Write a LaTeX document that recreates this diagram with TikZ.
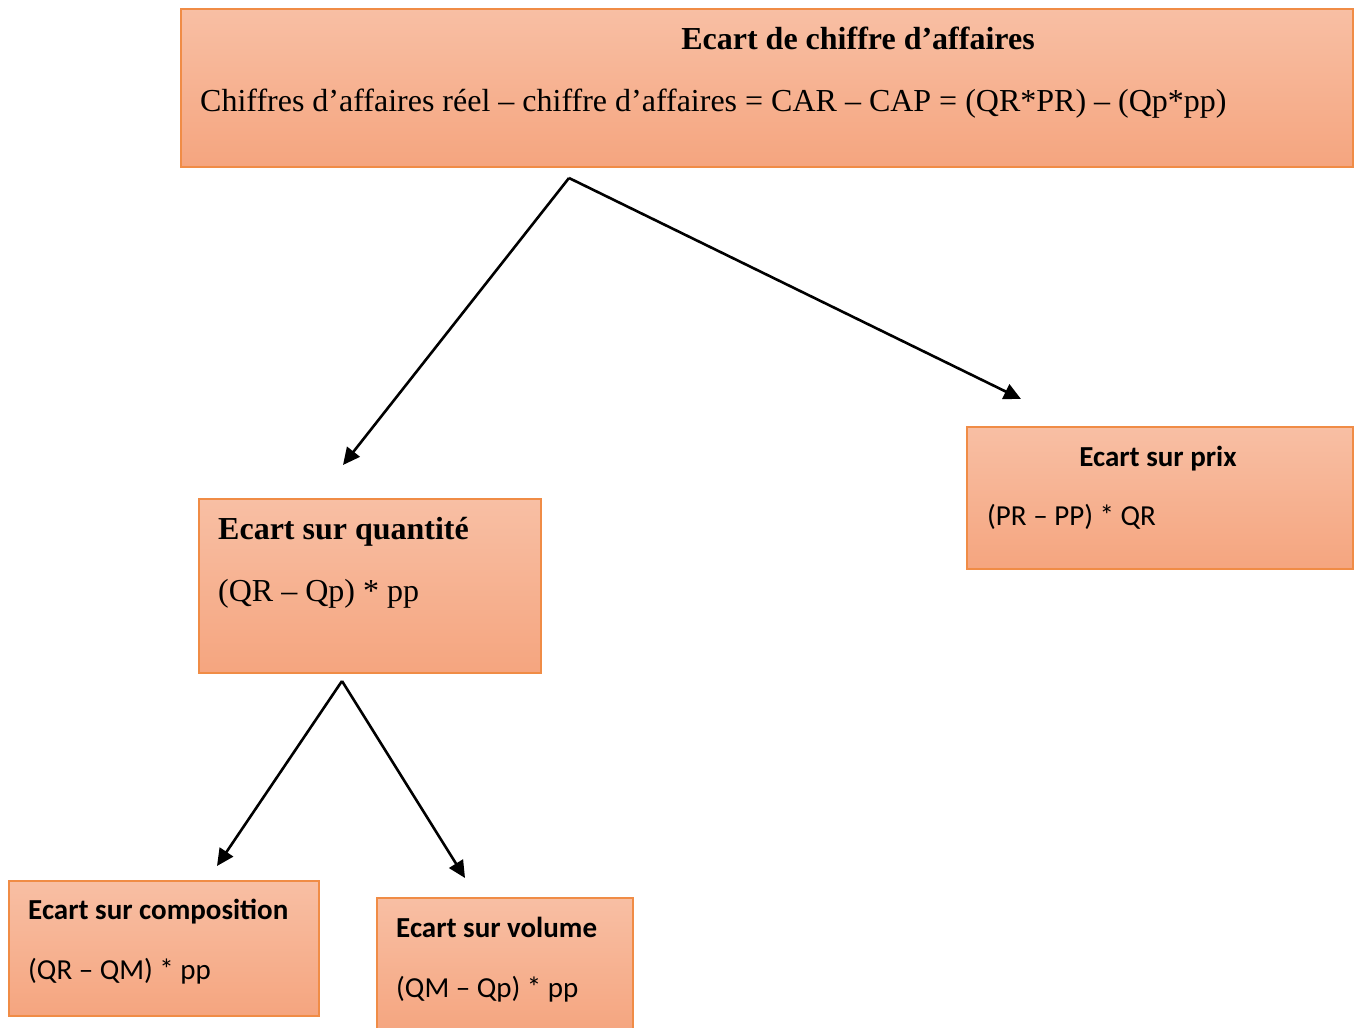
\documentclass[tikz,border=0pt]{standalone}
\usepackage{fontspec}
\setmainfont{Liberation Serif}
\newfontfamily\calfont{Carlito}
\usetikzlibrary{arrows.meta}
\definecolor{boxtop}{RGB}{248,191,164}
\definecolor{boxbot}{RGB}{245,165,127}
\definecolor{boxline}{RGB}{240,140,70}
\tikzset{
  box/.style={draw=boxline, line width=1.5pt, top color=boxtop, bottom color=boxbot, rectangle, inner sep=0pt, anchor=north west},
  serifbig/.style={font=\fontsize{32}{36}\selectfont, inner sep=0pt},
  serifbold/.style={font=\bfseries\fontsize{32}{36}\selectfont, inner sep=0pt},
  sansbig/.style={font=\calfont\fontsize{29}{34}\selectfont, inner sep=0pt},
  sansbold/.style={font=\calfont\bfseries\fontsize{29}{34}\selectfont, inner sep=0pt},
  conn/.style={line width=2.6pt, -{Triangle[length=17pt,width=16pt]}}
}
\begin{document}
\begin{tikzpicture}[x=1pt,y=-1pt]
\useasboundingbox (0,0) rectangle (1355,1028);
% boxes
\node[box, minimum width=1172pt, minimum height=158pt] (top) at (180,8) {};
\node[box, minimum width=386pt, minimum height=142pt] (prix) at (966,426) {};
\node[box, minimum width=342pt, minimum height=174pt] (quant) at (198,498) {};
\node[box, minimum width=310pt, minimum height=135pt] (comp) at (8,880) {};
\node[box, minimum width=256pt, minimum height=135pt] (vol) at (376,897) {};
% texts
\node[serifbold, anchor=base] (toptitle) at (858,49) {Ecart de chiffre d’affaires};
\node[serifbig, anchor=base west] (topbody) at (200,111) {Chiffres d’affaires réel – chiffre d’affaires = CAR – CAP = (QR*PR) – (Qp*pp)};
\node[sansbold, anchor=base] (prixtitle) at (1158,466) {Ecart sur prix};
\node[sansbig, anchor=base west] (prixbody) at (987,525) {(PR – PP) * QR};
\node[serifbold, anchor=base west] (quanttitle) at (218,539) {Ecart sur quantité};
\node[serifbig, anchor=base west] (quantbody) at (218,601) {(QR – Qp) * pp};
\node[sansbold, anchor=base west] (comptitle) at (28,919) {Ecart sur composition};
\node[sansbig, anchor=base west] (compbody) at (28,979) {(QR – QM) * pp};
\node[sansbold, anchor=base west] (voltitle) at (396,937) {Ecart sur volume};
\node[sansbig, anchor=base west] (volbody) at (396,997) {(QM – Qp) * pp};
% connector ends
\coordinate (s1) at (569,178);
\coordinate (e1) at (343,465);
\coordinate (e2) at (1021,399);
\coordinate (s2) at (342,681);
\coordinate (e3) at (217,866);
\coordinate (e4) at (465,878);
\draw[conn] (s1) -- (e1);
\draw[conn] (s1) -- (e2);
\draw[conn] (s2) -- (e3);
\draw[conn] (s2) -- (e4);
\end{tikzpicture}
\end{document}
